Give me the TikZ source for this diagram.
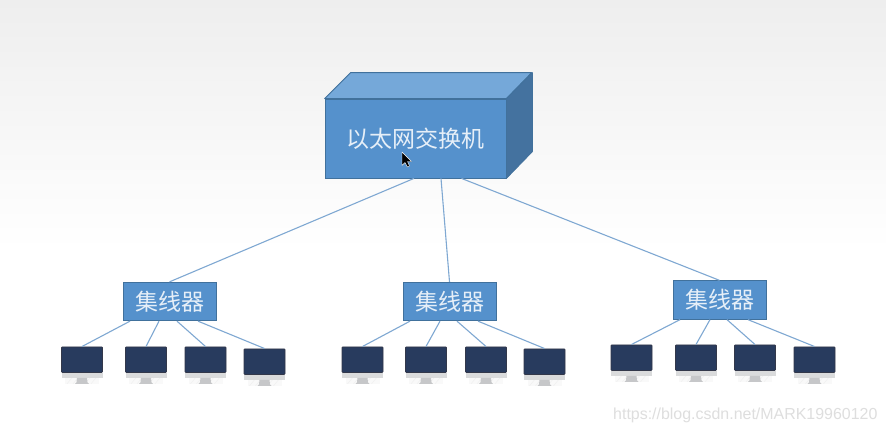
\documentclass[tikz,border=0pt]{standalone}
\usepackage{fontspec}
\setmainfont{Liberation Sans}
\newfontfamily\cjkf{Noto Sans CJK SC}
\usetikzlibrary{calc}
\definecolor{frontc}{HTML}{5591CC}
\definecolor{topc}{HTML}{75A8D9}
\definecolor{sidec}{HTML}{44729F}
\definecolor{edgec}{HTML}{41719C}
\definecolor{linkc}{HTML}{7FA8D2}
\definecolor{screenc}{HTML}{283B5E}
\definecolor{bezelc}{HTML}{33384A}
\definecolor{chinc}{HTML}{DADBDC}
\definecolor{standc}{HTML}{C6C7C9}
\definecolor{textc}{HTML}{E6EFF8}
\definecolor{bgtop}{HTML}{EEEEEE}
\definecolor{hatcha}{HTML}{F9F9F9}
\definecolor{hatchb}{HTML}{F0F0F0}
\tikzset{
  x=1pt,y=-1pt,
  switchbox/.style={draw=edgec,line width=0.8pt,fill=frontc,minimum width=181pt,minimum height=79pt,inner sep=0pt,text=textc,font=\cjkf\fontsize{23}{23}\selectfont},
  hubbox/.style={draw=edgec,line width=0.8pt,fill=frontc,minimum width=93pt,minimum height=38.5pt,inner sep=0pt,text=textc,font=\cjkf\fontsize{23}{23}\selectfont},
  screenbox/.style={draw=bezelc,line width=0.8pt,fill=screenc,rounded corners=0.8pt,minimum width=41pt,minimum height=25.5pt,inner sep=0pt,anchor=north},
  link/.style={draw=linkc,line width=1.1pt},
}
\newcommand{\monitorat}[3]{%
  \node[screenbox] (#1) at (#2,#3) {};
  \fill[hatcha] ([xshift=-17pt,yshift=-5pt]#1.south) rectangle ([xshift=17pt,yshift=-11pt]#1.south);
  \foreach \dd in {-15,-9,-3,3,9}{\draw[hatchb,line width=0.5pt] ([xshift=\dd pt,yshift=-11pt]#1.south) -- ([xshift=\dd pt+5pt,yshift=-5pt]#1.south);}
  \fill[chinc] ([xshift=-20.5pt]#1.south) -- ([xshift=20.5pt]#1.south) -- ([xshift=20.5pt,yshift=-5pt]#1.south) -- ([xshift=-20.5pt,yshift=-5pt]#1.south) -- cycle;
  \fill[standc] ([xshift=-5pt,yshift=-5pt]#1.south) -- ([xshift=5pt,yshift=-5pt]#1.south) -- ([xshift=5.5pt,yshift=-9.5pt]#1.south) -- ([xshift=7pt,yshift=-11pt]#1.south) -- ([xshift=-7pt,yshift=-11pt]#1.south) -- ([xshift=-5.5pt,yshift=-9.5pt]#1.south) -- cycle;
}
\begin{document}
\begin{tikzpicture}
\useasboundingbox (0,0) rectangle (886,434);
\shade[top color=bgtop,bottom color=white] (0,0) rectangle (886,250);
\fill[white] (0,250) rectangle (886,434);
% switch
\node[switchbox] (sw) at (415.5,138.5) {以太网交换机};
\fill[topc,draw=edgec,line width=0.8pt,line join=round] (sw.north west) -- ++(26,-26) -- ++(181,0) -- ($(sw.north east)$) -- cycle;
\fill[sidec,draw=edgec,line width=0.8pt,line join=round] (sw.north east) -- ++(26,-26) -- ++(0,79) -- (sw.south east) -- cycle;
% hubs
\node[hubbox] (h1) at (169.5,301.5) {集线器};
\node[hubbox] (h2) at (449.5,301.5) {集线器};
\node[hubbox] (h3) at (719.5,300) {集线器};
% monitors
\monitorat{a1}{82}{346.5}
\monitorat{a2}{146}{346.5}
\monitorat{a3}{205.5}{346.5}
\monitorat{a4}{264.5}{348.5}
\monitorat{b1}{362.5}{346.5}
\monitorat{b2}{426}{346.5}
\monitorat{b3}{486}{346.5}
\monitorat{b4}{544.5}{348.5}
\monitorat{c1}{631.5}{344.5}
\monitorat{c2}{696}{344.5}
\monitorat{c3}{755}{344.5}
\monitorat{c4}{814.5}{346.5}
% connectors
\draw[link] ([xshift=-1.5pt]sw.south) -- (h1.north);
\draw[link] ([xshift=25.5pt]sw.south) -- (h2.north);
\draw[link] ([xshift=46pt]sw.south) -- (h3.north);
\foreach \h/\m/\dx in {h1/a1/-39.5,h1/a2/-10.5,h1/a3/7.5,h1/a4/28.5,h2/b1/-39.5,h2/b2/-9.5,h2/b3/7.5,h2/b4/28.5,h3/c1/-39.5,h3/c2/-9.5,h3/c3/7.5,h3/c4/28.5}{
  \draw[link] ([xshift=\dx pt]\h.south) -- (\m.north);
}
% pointer
\fill[black,draw=white,line width=0.4pt,line join=round] (402,152) -- (402,165.5) -- (405,162.5) -- (407.5,167) -- (409.5,166) -- (407.5,161.5) -- (411.5,161.5) -- cycle;
% watermark
\node[anchor=west,inner sep=0pt,text=black!13,font=\fontsize{15.95}{16}\selectfont] (wm) at (613,415.5) {https://blog.csdn.net/MARK19960120};
\end{tikzpicture}
\end{document}
